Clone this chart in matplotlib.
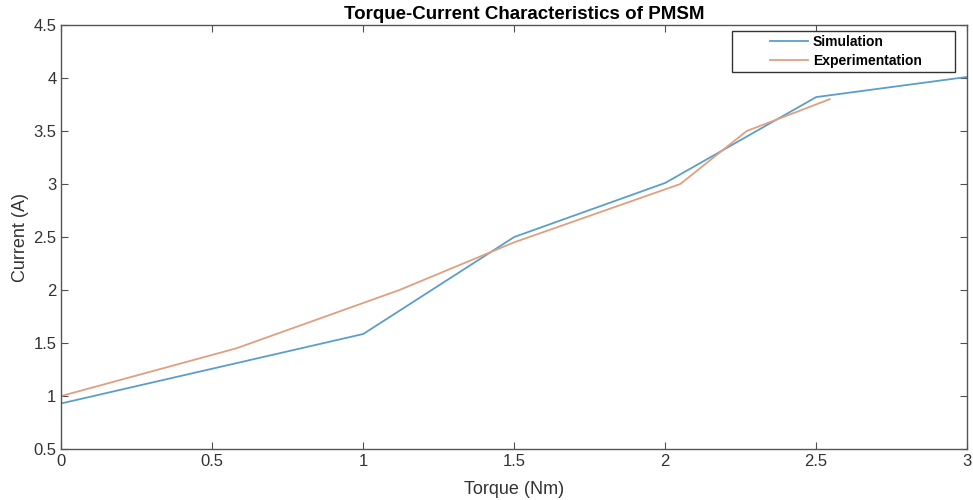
import matplotlib
matplotlib.use('Agg')
from matplotlib import pyplot as plt
from matplotlib.lines import Line2D
from matplotlib.legend_handler import HandlerLine2D

# data
sim_torque = [0.0, 1.0, 1.5, 2.0, 2.5, 3.0]
sim_current = [0.93, 1.585, 2.5, 3.01, 3.82, 4.01]

exp_torque = [0.0, 0.58, 1.12, 1.5, 2.05, 2.27, 2.545]
exp_current = [1.0, 1.45, 2.0, 2.45, 3.0, 3.5, 3.8]

x_ticks = [0, 0.5, 1, 1.5, 2, 2.5, 3]
x_labels = ['0', '0.5', '1', '1.5', '2', '2.5', '3']
y_ticks = [0.5, 1, 1.5, 2, 2.5, 3, 3.5, 4, 4.5]
y_labels = ['0.5', '1', '1.5', '2', '2.5', '3', '3.5', '4', '4.5']


class RightLine(HandlerLine2D):
    # draw the legend line only in the right part of the handle box (matlab look)
    def get_xdata(self, legend, xdescent, ydescent, width, height, fontsize):
        x0 = -xdescent + width * 0.48
        x1 = -xdescent + width
        return [x0, x1], [x0, x1]


plt.rcParams['font.family'] = ['Liberation Sans', 'DejaVu Sans']

fig = plt.figure(figsize=(9.73, 5.0), dpi=100)
ax = fig.add_axes([0.063, 0.102, 0.931, 0.848])

ax.plot(sim_torque, sim_current, color='#5b9fc9', linewidth=1.3, label='Simulation')
ax.plot(exp_torque, exp_current, color='#e0a080', linewidth=1.3, label='Experimentation')

ax.set_xlim(0, 3)
ax.set_ylim(0.5, 4.5)
ax.set_xticks(x_ticks)
ax.set_xticklabels(x_labels)
ax.set_yticks(y_ticks)
ax.set_yticklabels(y_labels)

# matlab style box with inward ticks on all sides
ax.tick_params(direction='in', top=True, right=True, length=5, width=0.8,
               colors='#505050', labelsize=12, labelcolor='#333333')
for s in ax.spines.values():
    s.set_color('#555555')
    s.set_linewidth(1.0)

ax.set_xlabel('Torque (Nm)', fontsize=13, color='#333333', labelpad=9)
ax.set_ylabel('Current (A)', fontsize=13, color='#333333', labelpad=3)
ax.set_title('Torque-Current Characteristics of PMSM', fontsize=13.5,
             fontweight='bold', pad=4, x=0.511)

leg = ax.legend(loc='upper right', bbox_to_anchor=(0.740, 0.5, 0.247, 0.486),
                mode='expand', borderaxespad=0, fancybox=False,
                framealpha=1, edgecolor='#333333', prop={'weight': 'bold', 'size': 10},
                handlelength=5.2, handletextpad=0.35, borderpad=0.3, labelspacing=0.32,
                handler_map={Line2D: RightLine()})
leg.get_frame().set_linewidth(1.0)

plt.savefig('out.png', dpi=100)
